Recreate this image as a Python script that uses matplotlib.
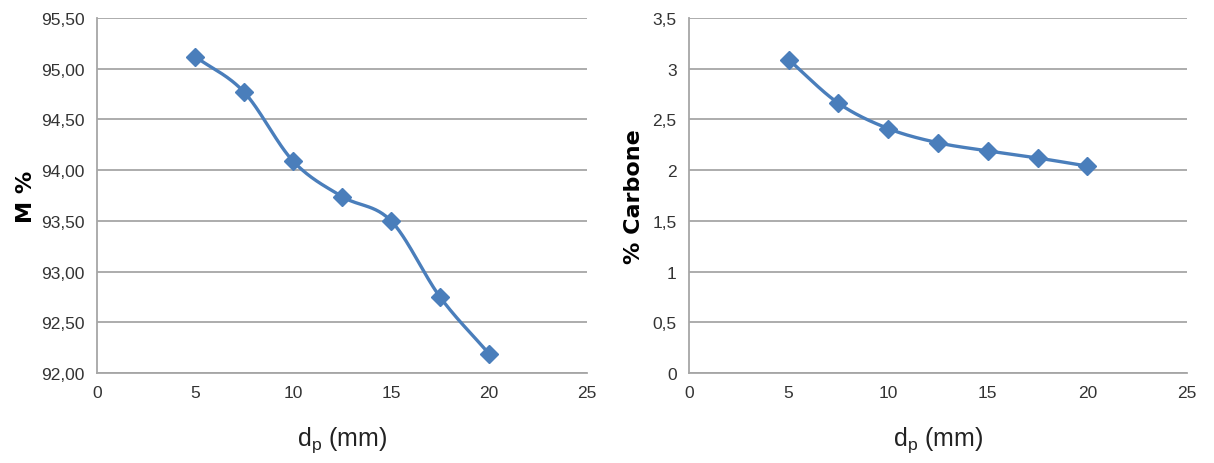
import numpy as np
import matplotlib.pyplot as plt
from matplotlib.ticker import FuncFormatter

# data
dp = [5, 7.5, 10, 12.5, 15, 17.5, 20]
m_pct = [95.12, 94.77, 94.09, 93.74, 93.50, 92.75, 92.19]
carbone = [3.09, 2.66, 2.41, 2.27, 2.19, 2.12, 2.04]

blue = '#4A7EBB'
grid_col = '#A6A6A6'
txt_col = '#333333'
plt.rcParams['font.family'] = ['Liberation Sans Narrow', 'Liberation Sans', 'DejaVu Sans']


def smooth(x, y, n=30):
    # Catmull-Rom curve through the points, like Excel's smoothed line
    x = np.asarray(x, float)
    y = np.asarray(y, float)
    px = np.concatenate([[2 * x[0] - x[1]], x, [2 * x[-1] - x[-2]]])
    py = np.concatenate([[2 * y[0] - y[1]], y, [2 * y[-1] - y[-2]]])
    xs, ys = [], []
    t = np.linspace(0, 1, n)
    for i in range(1, len(px) - 2):
        for p, out in ((px, xs), (py, ys)):
            p0, p1, p2, p3 = p[i - 1], p[i], p[i + 1], p[i + 2]
            out.extend(0.5 * (2 * p1 + (-p0 + p2) * t
                              + (2 * p0 - 5 * p1 + 4 * p2 - p3) * t ** 2
                              + (-p0 + 3 * p1 - 3 * p2 + p3) * t ** 3))
    return xs, ys


fig = plt.figure(figsize=(12.14, 4.64), dpi=100)
W, H = 1214, 464
ax1 = fig.add_axes([97 / W, 1 - 374 / H, 490 / W, 355 / H])
ax2 = fig.add_axes([689 / W, 1 - 374 / H, 498 / W, 355 / H])

for ax, y, lims, step, fmt, ylab in (
        (ax1, m_pct, (92, 95.5), 0.5, lambda v, p: f'{v:.2f}'.replace('.', ','), 'M %'),
        (ax2, carbone, (0, 3.5), 0.5, lambda v, p: f'{v:g}'.replace('.', ','), '% Carbone')):
    sx, sy = smooth(dp, y)
    ax.plot(sx, sy, color=blue, lw=2.4, zorder=3)
    ax.plot(dp, y, ls='none', marker='D', ms=9, color=blue, zorder=4)
    ax.set_xlim(0, 25)
    ax.set_ylim(*lims)
    ax.set_xticks(range(0, 26, 5))
    ax.set_yticks(np.arange(lims[0], lims[1] + 0.01, step))
    ax.yaxis.set_major_formatter(FuncFormatter(fmt))
    ax.grid(axis='y', color=grid_col, lw=1.3)
    ax.set_axisbelow(True)
    for s in ('top', 'right'):
        ax.spines[s].set_visible(False)
    for s in ('left', 'bottom'):
        ax.spines[s].set_color(grid_col)
        ax.spines[s].set_linewidth(1.3)
    ax.tick_params(length=0, labelsize=12.5, labelcolor=txt_col, pad=9)
    ax.set_xlabel('d$_\\mathregular{p}$ (mm)', fontsize=18, color='#222222', labelpad=17)
    ax.set_ylabel(ylab, fontsize=16, fontweight='bold', family='DejaVu Sans', color='black')

ax1.yaxis.set_label_coords(-0.125, 0.5)
ax2.yaxis.set_label_coords(-0.09, 0.5)

fig.savefig('out.png', dpi=100)
